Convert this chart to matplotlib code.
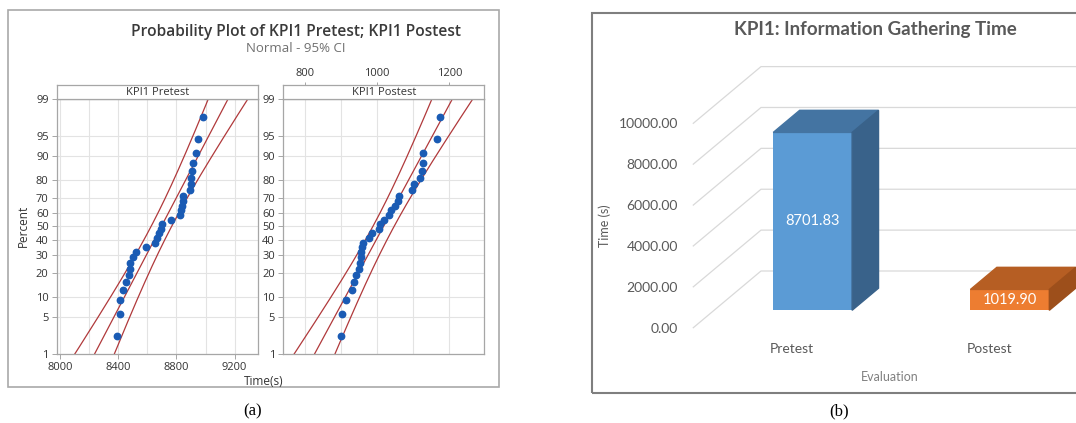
import numpy as np
import matplotlib
matplotlib.use("Agg")
import matplotlib.pyplot as plt
from matplotlib.patches import Rectangle, Polygon
from statistics import NormalDist

# KPI1 times (s), 30 runs each
pretest = [8395, 8414, 8414, 8436, 8453, 8475, 8482, 8482, 8501, 8521,
           8590, 8654, 8670, 8681, 8693, 8704, 8760, 8825, 8832, 8836,
           8843, 8848, 8894, 8898, 8903, 8910, 8917, 8935, 8951, 8981]
postest = [899, 902, 913, 931, 936, 941, 950, 952, 954, 955,
           959, 962, 977, 985, 1005, 1008, 1020, 1034, 1038, 1049,
           1057, 1061, 1097, 1103, 1120, 1125, 1126, 1126, 1166, 1174]
pct_ticks = [1, 5, 10, 20, 30, 40, 50, 60, 70, 80, 90, 95, 99]
pre_ticks = [8000, 8400, 8800, 9200]
post_ticks = [800, 1000, 1200]

# bar chart (b)
bar_labels = ["Pretest", "Postest"]
bar_values = [8701.83, 1019.90]
bar_ticks = [0, 2000, 4000, 6000, 8000, 10000]

W, H = 1076, 423
fig = plt.figure(figsize=(W / 100, H / 100), dpi=100)
plt.rcParams['font.family'] = ['Open Sans', 'DejaVu Sans']


def box(x0, y0, x1, y1):
    # pixel box measured from top-left -> figure fraction rect
    return [x0 / W, 1 - y1 / H, (x1 - x0) / W, (y1 - y0) / H]


def fxy(x, y):
    return x / W, 1 - y / H


RED = '#B0393B'
BLUE = '#1A5BB4'
GRID = '#E3E3E3'
SPINE = '#A6A6A6'
TXT = '#333333'

###############################################################################
# (a) normal probability plot
nd = NormalDist()
to_z = np.vectorize(lambda p: nd.inv_cdf(min(max(p, 1e-6), 100 - 1e-6) / 100), otypes=[float])
to_p = np.vectorize(lambda z: nd.cdf(z) * 100, otypes=[float])


def prob_panel(ax, hdr, data, xlim, ticks, step, name, top_labels):
    x = np.sort(np.array(data, float))
    n = len(x)
    pct = (np.arange(1, n + 1) - 0.3) / (n + 0.4) * 100  # median ranks
    mu, sd = x.mean(), x.std(ddof=1)
    pg = np.linspace(0.05, 99.95, 300)
    zg = to_z(pg)
    fit = mu + sd * zg
    half = 1.96 * sd * np.sqrt(1 / n + zg ** 2 / (2 * n))

    ax.set_yscale('function', functions=(to_z, to_p))
    for line in (fit - half, fit, fit + half):
        ax.plot(line, pg, color=RED, lw=0.9, zorder=2)
    ax.plot(x, pct, 'o', ms=4.6, color=BLUE, mec=BLUE, zorder=3)

    ax.set_yticks(pct_ticks, [str(t) for t in pct_ticks])
    ax.set_yticks([], minor=True)
    ax.set_xticks(ticks)
    grid_x = np.arange(ticks[0] - step * 2, xlim[1], step)
    ax.set_xticks(grid_x[grid_x > xlim[0]], minor=True)
    ax.set_xlim(xlim)
    ax.set_ylim(1, 99)
    ax.grid(True, which='both', color=GRID, lw=0.8, zorder=0)
    ax.tick_params(axis='both', which='major', labelsize=8, labelcolor=TXT,
                   color=SPINE, length=3.5, width=0.7, pad=2.5)
    ax.tick_params(axis='x', which='minor', length=0)
    if top_labels:
        ax.tick_params(axis='x', which='major', length=0, labelbottom=False)
    for s in ax.spines.values():
        s.set_color(SPINE)
        s.set_linewidth(0.9)

    hdr.set_yticks([])
    if top_labels:
        hdr.xaxis.tick_top()
        hdr.set_xticks(ticks)
        hdr.tick_params(axis='x', labelsize=8, labelcolor=TXT, color=SPINE,
                        length=2.5, width=0.7, pad=1.5)
    else:
        hdr.set_xticks([])
    hdr.set_xlim(xlim)
    for s in hdr.spines.values():
        s.set_color(SPINE)
        s.set_linewidth(0.9)
    hdr.text(0.5, 0.45, name, transform=hdr.transAxes, ha='center', va='center',
             fontsize=8, color=TXT)


axL = fig.add_axes(box(57, 99, 258, 354))
hdL = fig.add_axes(box(57, 85, 258, 99))
axR = fig.add_axes(box(283.3, 99, 484.3, 354))
hdR = fig.add_axes(box(283.3, 85, 484.3, 99))
prob_panel(axL, hdL, pretest, (7981, 9360), pre_ticks, 200, "KPI1 Pretest", False)
prob_panel(axR, hdR, postest, (740, 1297), post_ticks, 100, "KPI1 Postest", True)

fig.text(*fxy(296, 31.5), "Probability Plot of KPI1 Pretest; KPI1 Postest",
         ha='center', va='center', fontsize=11.2, color='#3A3A3A', fontweight='semibold')
fig.text(*fxy(296, 48), "Normal - 95% CI", ha='center', va='center',
         fontsize=9.5, color='#707070')
fig.text(*fxy(23, 226), "Percent", rotation=90, ha='center', va='center',
         fontsize=8.5, color=TXT)
fig.text(*fxy(264, 381), "Time(s)", ha='center', va='center', fontsize=8.5, color=TXT)

fig.add_artist(Rectangle(fxy(7.5, 387), 491.5 / W, 376.5 / H, transform=fig.transFigure,
                         fill=False, ec='#A9A9A9', lw=1.2))

###############################################################################
# (b) 3-D style column chart
px_cat = 197.2      # px per category step
px_val = 0.02044    # px per second
depth = (67.7 / px_cat, 56.7 / px_val)   # floor depth in data units
x_right = (1076 - 693.3) / px_cat - 0.5

axB = fig.add_axes(box(693.3, 66.6, 1076, 327.7))
axB.patch.set_alpha(0)
for s in axB.spines.values():
    s.set_visible(False)

for t in bar_ticks:
    axB.plot([-0.5, -0.5 + depth[0], x_right], [t, t + depth[1], t + depth[1]],
             color='#D9D9D9', lw=0.9, zorder=0, clip_on=False)

front_cols = ['#5B9BD5', '#ED7D31']
top_cols = ['#4474A2', '#B65E23']
side_cols = ['#39628A', '#9D4F1B']
bw = 0.40
f0, fd = 0.307, 0.39
ox, oy = depth[0] * f0, depth[1] * f0
dx, dy = depth[0] * fd, depth[1] * fd
xs = np.arange(len(bar_values))
axB.bar(xs + ox, bar_values, bw, bottom=oy, color=front_cols, zorder=3)
for i, v in enumerate(bar_values):
    x0 = xs[i] + ox - bw / 2
    x1 = x0 + bw
    top = oy + v
    axB.add_patch(Polygon([(x0, top), (x1, top), (x1 + dx, top + dy), (x0 + dx, top + dy)],
                          closed=True, color=top_cols[i], zorder=3))
    axB.add_patch(Polygon([(x1, oy), (x1, top), (x1 + dx, top + dy), (x1 + dx, oy + dy)],
                          closed=True, color=side_cols[i], zorder=3))
    axB.text(xs[i] + ox, oy + v / 2, f"{v:.2f}", ha='center', va='center',
             fontsize=10.5, color='white', family=['Lato', 'DejaVu Sans'], zorder=4)

axB.set_yticks(bar_ticks, [f"{t:.2f}" for t in bar_ticks])
axB.set_xticks(xs, bar_labels)
axB.set_xlim(-0.5, x_right)
axB.set_ylim(0, 10000 + depth[1])
axB.tick_params(length=0, labelsize=10, labelcolor='#595959')
axB.tick_params(axis='y', pad=11)
axB.tick_params(axis='x', pad=11)
for lab in axB.get_xticklabels() + axB.get_yticklabels():
    lab.set_family(['Lato', 'DejaVu Sans'])

fig.text(*fxy(875, 29.5), "KPI1: Information Gathering Time", ha='center', va='center',
         fontsize=13.5, fontweight='bold', color='#595959', family=['Lato', 'DejaVu Sans'])
fig.text(*fxy(890, 377), "Evaluation", ha='center', va='center', fontsize=9,
         color='#808080', family=['Lato', 'DejaVu Sans'])
fig.text(*fxy(605, 226), "Time (s)", rotation=90, ha='center', va='center', fontsize=9,
         color='#595959', family=['Lato', 'DejaVu Sans'])

fig.add_artist(Rectangle(fxy(591.7, 392.7), 500 / W, 380 / H, transform=fig.transFigure,
                         fill=False, ec='#7F7F7F', lw=1.5))

# captions
fig.text(*fxy(253, 411), "(a)", ha='center', va='center', fontsize=12,
         family=['Liberation Serif', 'DejaVu Serif'])
fig.text(*fxy(839, 411), "(b)", ha='center', va='center', fontsize=12,
         family=['Liberation Serif', 'DejaVu Serif'])

fig.savefig("out.png", dpi=100)
